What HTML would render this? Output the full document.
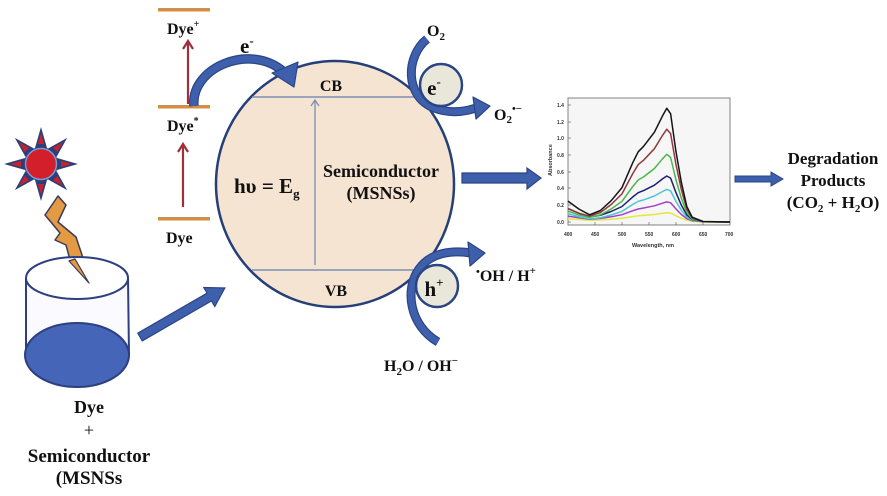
<!DOCTYPE html>
<html><head><meta charset="utf-8"><style>
html,body{margin:0;padding:0;background:#fff;}
svg{display:block;}
text{font-family:"Liberation Serif",serif;font-weight:bold;fill:#111;}
.g text{font-family:"Liberation Sans",sans-serif;font-size:5px;fill:#333;}
</style></head><body>
<svg width="887" height="496" viewBox="0 0 887 496" xmlns="http://www.w3.org/2000/svg">

<!-- Sun -->
<g transform="translate(41,164)">
  <g fill="#2d3f78">
    <polygon points="-6,-16 6,-16 0,-37"/>
    <polygon points="-6,-16 6,-16 0,-37" transform="rotate(45)"/>
    <polygon points="-6,-16 6,-16 0,-37" transform="rotate(90)"/>
    <polygon points="-6,-16 6,-16 0,-37" transform="rotate(135)"/>
    <polygon points="-6,-16 6,-16 0,-37" transform="rotate(180)"/>
    <polygon points="-6,-16 6,-16 0,-37" transform="rotate(225)"/>
    <polygon points="-6,-16 6,-16 0,-37" transform="rotate(270)"/>
    <polygon points="-6,-16 6,-16 0,-37" transform="rotate(315)"/>
  </g>
  <g fill="#c8202c">
    <polygon points="-3,-20 3,-20 0,-31"/>
    <polygon points="-3,-20 3,-20 0,-31" transform="rotate(45)"/>
    <polygon points="-3,-20 3,-20 0,-31" transform="rotate(90)"/>
    <polygon points="-3,-20 3,-20 0,-31" transform="rotate(135)"/>
    <polygon points="-3,-20 3,-20 0,-31" transform="rotate(180)"/>
    <polygon points="-3,-20 3,-20 0,-31" transform="rotate(225)"/>
    <polygon points="-3,-20 3,-20 0,-31" transform="rotate(270)"/>
    <polygon points="-3,-20 3,-20 0,-31" transform="rotate(315)"/>
  </g>
  <circle r="17" fill="#2d3f78"/>
  <circle r="15.5" fill="#d21f2a" stroke="#7a98d8" stroke-width="1.5"/>
</g>

<!-- Lightning -->
<polygon points="58,196 66,205 58,222 76,237 82,255 89,283 70,260 66,245 55,240 60,233 45,215" fill="#e39a42" stroke="#3a3a5a" stroke-width="1.5" stroke-linejoin="round"/>

<!-- Beaker -->
<path d="M26,278 L26,355 A53,32 0 0 0 129,355 L128,278" fill="#fbfbff" stroke="#2c3f80" stroke-width="2"/>
<ellipse cx="77" cy="355" rx="52" ry="32" fill="#4565b8" stroke="#2c3f80" stroke-width="2"/>
<ellipse cx="77" cy="278" rx="51" ry="21" fill="#fff" stroke="#2c3f80" stroke-width="2"/>
<polygon points="75,259 89,283 69,261" fill="#e39a42" stroke="#3a3a5a" stroke-width="1.2" stroke-linejoin="round"/>

<!-- Beaker to circle arrow -->
<g transform="translate(140,337) rotate(-30)">
  <polygon points="0,-4.5 80,-4.5 80,-11 98,0 80,11 80,4.5 0,4.5" fill="#3d5fac" stroke="#2b4584" stroke-width="1.2"/>
</g>

<!-- Bottom labels -->
<text x="89" y="413" font-size="18" text-anchor="middle">Dye</text>
<text x="89" y="436" font-size="18" text-anchor="middle" style="font-weight:normal">+</text>
<text x="89" y="462" font-size="19" text-anchor="middle">Semiconductor</text>
<text x="89" y="484" font-size="19" text-anchor="middle">(MSNSs</text>

<!-- Dye energy levels -->
<g stroke="#d98c3c" stroke-width="3">
  <line x1="158" y1="10" x2="210" y2="10"/>
  <line x1="158" y1="107" x2="210" y2="107"/>
  <line x1="158" y1="219" x2="210" y2="219"/>
</g>
<g stroke="#b08050" stroke-width="0.8">
  <line x1="158" y1="8.5" x2="210" y2="8.5"/>
  <line x1="158" y1="105.5" x2="210" y2="105.5"/>
  <line x1="158" y1="217.5" x2="210" y2="217.5"/>
</g>
<text x="167" y="34" font-size="16">Dye<tspan font-size="10" dy="-7">+</tspan></text>
<text x="167" y="131" font-size="16">Dye<tspan font-size="10" dy="-7">*</tspan></text>
<text x="166" y="243" font-size="16">Dye</text>
<!-- red arrows -->
<g stroke="#9e2f3c" stroke-width="2.2" fill="none">
  <line x1="188" y1="104" x2="188" y2="43"/>
  <polyline points="183,49 188,41 193,49"/>
  <line x1="183" y1="207" x2="183" y2="146"/>
  <polyline points="178,152 183,144 188,152"/>
</g>

<!-- Big semiconductor ellipse -->
<ellipse cx="335" cy="184" rx="119" ry="123" fill="#f6e4d2" stroke="#253f78" stroke-width="2.5"/>
<line x1="252" y1="97" x2="419" y2="97" stroke="#7b8fb3" stroke-width="1.5"/>
<line x1="252" y1="270" x2="419" y2="270" stroke="#7b8fb3" stroke-width="1.5"/>
<line x1="315" y1="100" x2="315" y2="265" stroke="#7b8fb3" stroke-width="1.3"/>
<polyline points="311,106 315,100 319,106" fill="none" stroke="#7b8fb3" stroke-width="1.3"/>
<text x="331" y="91" font-size="16" text-anchor="middle">CB</text>
<text x="336" y="296" font-size="16" text-anchor="middle">VB</text>
<text x="234" y="193" font-size="21">hυ = E<tspan font-size="13" dy="5">g</tspan></text>
<text x="381" y="177" font-size="18" text-anchor="middle">Semiconductor</text>
<text x="381" y="199" font-size="18" text-anchor="middle">(MSNSs)</text>

<!-- e- arrow from Dye* to CB -->
<path d="M194,106 C190,68 250,42 284,72" fill="none" stroke="#2b4584" stroke-width="9.5" stroke-linecap="butt"/>
<path d="M194,106 C190,68 250,42 284,72" fill="none" stroke="#3d5fac" stroke-width="7" stroke-linecap="butt"/>
<polygon points="272,73 298,62 294,87" fill="#3d5fac" stroke="#2b4584" stroke-width="1.2" stroke-linejoin="round"/>
<text x="240" y="53" font-size="21">e<tspan font-size="13" dy="-8">-</tspan></text>

<!-- O2 reduction -->
<path d="M427,39 C406,56 404,96 434,108 C450,114 464,112 476,108" fill="none" stroke="#2b4584" stroke-width="9"/>
<path d="M427,39 C406,56 404,96 434,108 C450,114 464,112 476,108" fill="none" stroke="#3d5fac" stroke-width="6.5"/>
<polygon points="473,97 490,106 476,119" fill="#3d5fac" stroke="#2b4584" stroke-width="1.2" stroke-linejoin="round"/>
<circle cx="441" cy="85" r="21" fill="#e9e7da" stroke="#2b4584" stroke-width="2.5"/>
<text x="434" y="95" font-size="21" text-anchor="middle">e<tspan font-size="13" dy="-9">-</tspan></text>
<text x="427" y="36" font-size="16">O<tspan font-size="11" dy="4">2</tspan></text>
<text x="494" y="120" font-size="16">O<tspan font-size="11" dy="3">2</tspan><tspan font-size="11" dy="-11">•−</tspan></text>

<!-- h+ oxidation -->
<path d="M438,342 C410,326 404,290 419,269 C431,252 453,250 471,253" fill="none" stroke="#2b4584" stroke-width="9"/>
<path d="M438,342 C410,326 404,290 419,269 C431,252 453,250 471,253" fill="none" stroke="#3d5fac" stroke-width="6.5"/>
<polygon points="468,242 485,253 470,266" fill="#3d5fac" stroke="#2b4584" stroke-width="1.2" stroke-linejoin="round"/>
<circle cx="437" cy="286" r="21" fill="#e9e7da" stroke="#2b4584" stroke-width="2.5"/>
<text x="434" y="296" font-size="21" text-anchor="middle">h<tspan font-size="13" dy="-9">+</tspan></text>
<text x="476" y="281" font-size="16"><tspan font-size="11" dy="-6">•</tspan><tspan dy="6">OH / H</tspan><tspan font-size="11" dy="-7">+</tspan></text>
<text x="384" y="371" font-size="16">H<tspan font-size="11" dy="4">2</tspan><tspan dy="-4">O / OH</tspan><tspan font-size="11" dy="-7">−</tspan></text>

<!-- arrow circle -> graph -->
<polygon points="462,173 527,173 527,168 541,178 527,189 527,183 462,183" fill="#3d5fac" stroke="#2b4584" stroke-width="1.2"/>

<!-- Graph -->
<g class="g">
  <rect x="568" y="98" width="162" height="127" fill="#f6f6f6" stroke="#666" stroke-width="0.8"/>
  <g stroke="#555" stroke-width="0.6">
    <line x1="568" y1="105" x2="571" y2="105"/><line x1="568" y1="122" x2="571" y2="122"/>
    <line x1="568" y1="138" x2="571" y2="138"/><line x1="568" y1="155" x2="571" y2="155"/>
    <line x1="568" y1="172" x2="571" y2="172"/><line x1="568" y1="188" x2="571" y2="188"/>
    <line x1="568" y1="205" x2="571" y2="205"/><line x1="568" y1="222" x2="571" y2="222"/>
    <line x1="595" y1="225" x2="595" y2="222"/><line x1="622" y1="225" x2="622" y2="222"/>
    <line x1="649" y1="225" x2="649" y2="222"/><line x1="676" y1="225" x2="676" y2="222"/>
    <line x1="703" y1="225" x2="703" y2="222"/>
  </g>
  <text x="557" y="107">1.4</text><text x="557" y="124">1.2</text><text x="557" y="140">1.0</text>
  <text x="557" y="157">0.8</text><text x="557" y="174">0.6</text><text x="557" y="190">0.4</text>
  <text x="557" y="207">0.2</text><text x="557" y="224">0.0</text>
  <text x="564" y="236">400</text><text x="591" y="236">450</text><text x="618" y="236">500</text>
  <text x="645" y="236">550</text><text x="672" y="236">600</text><text x="699" y="236">650</text>
  <text x="725" y="236">700</text>
  <text x="632" y="247" style="font-weight:bold;font-size:5.5px">Wavelength, nm</text>
  <text transform="translate(552,176) rotate(-90)" style="font-weight:bold;font-size:5.5px">Absorbance</text>
  <g fill="none" stroke-width="1.5" stroke-linejoin="round">
    <polyline stroke="#e6e640" points="568,218.7 578.8,219.5 589.6,220.2 600.4,219.9 611.2,219.2 622,218.3 632.8,216.6 638.2,215.8 643.6,215.4 654.4,214.5 662.5,213.3 666.8,212.8 670.6,213.1 676,215.8 681.4,218.3 686.8,220.2 692.2,221.3 703,221.9 730,222"/>
    <polyline stroke="#a33ec8" points="568,216.1 578.8,217.8 589.6,219.2 600.4,218.4 611.2,216.8 622,214.7 632.8,210.7 638.2,209 643.6,208 654.4,205.8 662.5,203.2 666.8,201.9 670.6,202.8 676,209 681.4,214.5 686.8,218.7 692.2,220.7 703,221.8 730,222"/>
    <polyline stroke="#4cc6d4" points="568,213.6 578.8,216.6 589.6,218.9 600.4,217.7 611.2,215 622,211.4 632.8,204.4 638.2,201.4 643.6,199.9 654.4,196 662.5,191.5 666.8,189.4 670.6,190.9 676,201.4 681.4,210.3 686.8,217.2 692.2,220.3 703,221.8 730,222"/>
    <polyline stroke="#1c1f6e" points="568,208.6 578.8,213.2 589.6,217 600.4,215.3 611.2,211.5 622,206.5 632.8,196.9 638.2,192.7 643.6,190.6 654.4,185.2 662.5,178.9 666.8,176 670.6,178.1 676,192.7 681.4,205.3 686.8,214.9 692.2,219.5 703,221.6 730,222"/>
    <polyline stroke="#4bb84a" points="568,211.1 578.8,214.9 589.6,217.4 600.4,214.8 611.2,209 622,201.3 632.8,186.5 638.2,180 643.6,176.9 654.4,168.5 662.5,158.8 666.8,154.3 670.6,157.5 676,180 681.4,198.4 686.8,212.6 692.2,219.1 703,221.7 730,222"/>
    <polyline stroke="#8e3a3e" points="568,208.6 578.8,213.2 589.6,216.1 600.4,212.5 611.2,204.5 622,193.9 632.8,173.5 638.2,164.6 643.6,160.2 654.4,148.7 662.5,135.4 666.8,129.2 670.6,133.6 676,164.6 681.4,189.8 686.8,209.3 692.2,218.1 703,221.6 730,222"/>
    <polyline stroke="#151515" points="568,201.1 578.8,209 589.6,214.8 600.4,210.5 611.2,200.7 622,187.6 632.8,162.6 638.2,151.8 643.6,146.3 654.4,132.2 662.5,115.9 666.8,108.3 670.6,113.7 676,151.8 681.4,182.6 686.8,206.4 692.2,217.2 703,221.5 730,222"/>
  </g>
</g>

<!-- arrow graph -> products -->
<polygon points="735,176 771,176 771,172 783,179 771,186 771,182 735,182" fill="#3d5fac" stroke="#2b4584" stroke-width="1"/>

<text x="833" y="164" font-size="17" text-anchor="middle">Degradation</text>
<text x="833" y="186" font-size="17" text-anchor="middle">Products</text>
<text x="833" y="208" font-size="17" text-anchor="middle">(CO<tspan font-size="11" dy="4">2</tspan><tspan dy="-4"> + H</tspan><tspan font-size="11" dy="4">2</tspan><tspan dy="-4">O)</tspan></text>
</svg>
</body></html>
